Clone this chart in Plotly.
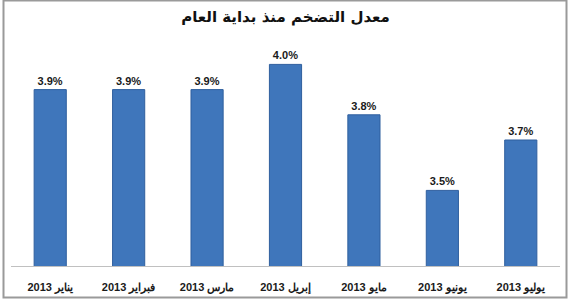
import plotly.graph_objects as go

categories = ["يناير 2013", "فبراير 2013", "مارس 2013", "إبريل 2013", "مايو 2013", "يونيو 2013", "يوليو 2013"]
values = [3.9, 3.9, 3.9, 4.0, 3.8, 3.5, 3.7]
labels = [f"{v:.1f}%" for v in values]
title = "معدل التضخم منذ بداية العام"

W, H = 570, 300
ml, mr, mt, mb = 11, 10, 14, 34
pw, ph = W - ml - mr, H - mt - mb

fig = go.Figure(go.Bar(
    x=categories, y=values, text=labels, textposition="outside",
    textfont=dict(family="Liberation Sans", size=11, color="#1a1a1a", weight="bold"),
    marker=dict(color="#3f76bb", line=dict(color="#2f5f9e", width=1)),
    cliponaxis=False, width=0.41,
))

def px_x(x):
    return (x - ml) / pw

def px_y(y):
    return (H - mb - y) / ph

fig.add_shape(type="rect", xref="paper", yref="paper",
              x0=px_x(3.5), x1=px_x(566.5), y0=px_y(297.5), y1=px_y(0.5),
              line=dict(color="#9a9a9a", width=2), fillcolor="rgba(0,0,0,0)", layer="below")

fig.update_layout(
    width=W, height=H, margin=dict(l=ml, r=mr, t=mt, b=mb, autoexpand=False),
    paper_bgcolor="white", plot_bgcolor="white", showlegend=False,
    title=dict(text=title, x=(ml + pw / 2) / W, xanchor="center", y=1 - 17 / H, yanchor="middle",
               xref="container", yref="container",
               font=dict(family="DejaVu Sans", size=15, color="#111111", weight="bold")),
    xaxis=dict(showline=True, linecolor="#c0c0c0", linewidth=1, showgrid=False, ticks="",
               ticklabelstandoff=11, automargin=False,
               tickfont=dict(family="Liberation Sans", size=11, color="#1a1a1a", weight="bold"),
               fixedrange=True),
    yaxis=dict(range=[3.2, 4.2], visible=False, showgrid=False, fixedrange=True),
)

fig.write_html("out.html")
